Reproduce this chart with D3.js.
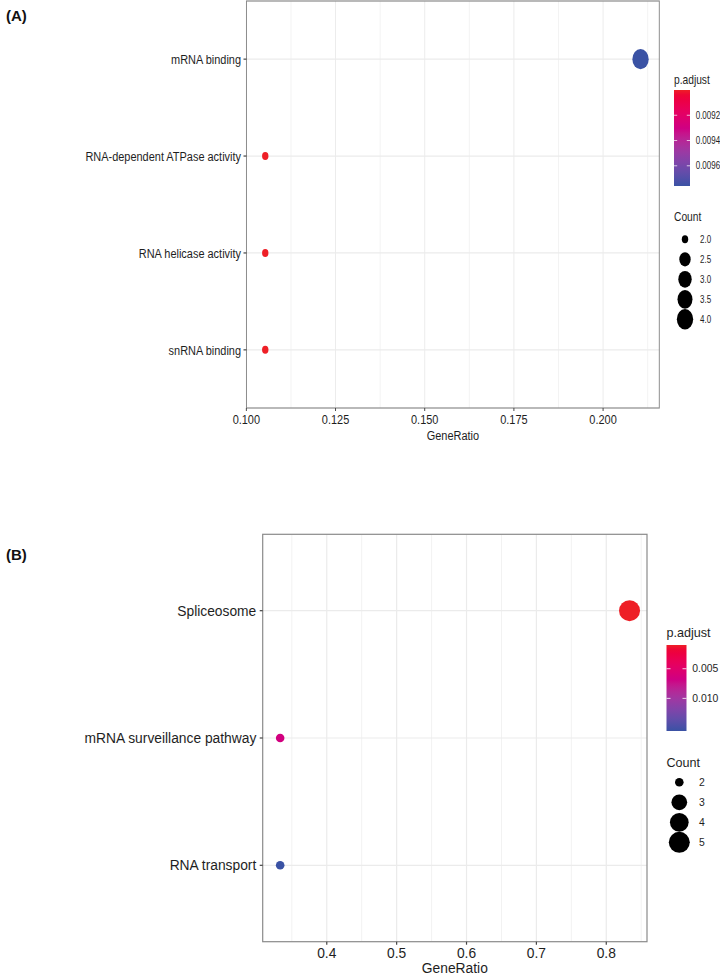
<!DOCTYPE html>
<html>
<head>
<meta charset="utf-8">
<script src="https://cdn.jsdelivr.net/npm/d3@7"></script>
<style>
  html, body { margin: 0; padding: 0; background: #fff; }
  svg { display: block; font-family: "Liberation Sans", Arial, sans-serif; }
</style>
</head>
<body>
<script>
// ---------------- DATA ----------------
// Panel A (GO)
const termsA = ["mRNA binding", "RNA-dependent ATPase activity", "RNA helicase activity", "snRNA binding"];
const geneRatioA = [0.2105, 0.1053, 0.1053, 0.1053];
const countA = [4, 2, 2, 2];
const pAdjA = [0.00976, 0.00900, 0.00900, 0.00900];
const xTicksA = [0.100, 0.125, 0.150, 0.175, 0.200];
const colorBreaksA = [0.0092, 0.0094, 0.0096];
const countBreaksA = [2.0, 2.5, 3.0, 3.5, 4.0];

// Panel B (KEGG)
const termsB = ["Spliceosome", "mRNA surveillance pathway", "RNA transport"];
const geneRatioB = [0.8333, 0.3333, 0.3333];
const countB = [5, 2, 2];
const pAdjB = [0.0010, 0.0065, 0.0155];
const xTicksB = [0.4, 0.5, 0.6, 0.7, 0.8];
const colorBreaksB = [0.005, 0.010];
const countBreaksB = [2, 3, 4, 5];

// ---------------- LAYOUT ----------------
const W = 720, H = 974;
const RED = "#EE1F26", BLUE = "#3A52A4";
const TXT = "#1e1e1e";

const svg = d3.select("body").append("svg").attr("width", W).attr("height", H);
svg.append("rect").attr("width", W).attr("height", H).attr("fill", "#fff");
const defs = svg.append("defs");

function drawPanel(terms, ratio, count, padj, xTicks, xFmt, cBreaks, cFmt, nBreaks, nFmt, L) {
  const SX = L.sx;
  const vx = v => v / SX;   // real px -> virtual px inside the horizontally scaled group
  const g = svg.append("g").attr("transform", `scale(${SX},1)`);
  const data = terms.map((t, i) => ({ term: t, x: ratio[i], n: count[i], p: padj[i] }));

  // x scale with ggplot-like 5% expansion
  const ext = d3.extent(ratio);
  const pad = (ext[1] - ext[0]) * 0.05;
  const x = d3.scaleLinear().domain([ext[0] - pad, ext[1] + pad]).range([vx(L.left), vx(L.right)]);
  const y = d3.scalePoint().domain(terms).range([L.top, L.bottom]).padding(0.6);

  const pExt = d3.extent(padj);
  const color = d3.scaleLinear().domain(pExt).range([RED, BLUE]).interpolate(d3.interpolateHcl);
  const nExt = d3.extent(count);
  const rad = d3.scaleLinear().domain([0, 1]).range([L.rmin, L.rmax]);
  const r = v => rad(Math.sqrt((v - nExt[0]) / (nExt[1] - nExt[0])));

  // grid: minor
  const step = xTicks[1] - xTicks[0];
  const minor = [];
  for (let v = xTicks[0] - step / 2; v <= x.domain()[1]; v += step) {
    if (v >= x.domain()[0]) minor.push(v);
  }
  g.selectAll(".minor").data(minor).join("line")
    .attr("x1", d => x(d)).attr("x2", d => x(d))
    .attr("y1", L.top).attr("y2", L.bottom)
    .attr("stroke", "#F2F2F2").attr("stroke-width", 1);
  // grid: major vertical
  g.selectAll(".majx").data(xTicks).join("line")
    .attr("x1", d => x(d)).attr("x2", d => x(d))
    .attr("y1", L.top).attr("y2", L.bottom)
    .attr("stroke", "#EBEBEB").attr("stroke-width", 1.2);
  // grid: major horizontal
  g.selectAll(".majy").data(terms).join("line")
    .attr("x1", vx(L.left)).attr("x2", vx(L.right))
    .attr("y1", d => y(d)).attr("y2", d => y(d))
    .attr("stroke", "#EBEBEB").attr("stroke-width", 1.2);

  // points
  g.selectAll(".pt").data(data).join("circle")
    .attr("cx", d => x(d.x)).attr("cy", d => y(d.term))
    .attr("r", d => r(d.n))
    .attr("fill", d => color(d.p));

  // panel border
  g.append("rect")
    .attr("x", vx(L.left)).attr("y", L.top)
    .attr("width", vx(L.right) - vx(L.left)).attr("height", L.bottom - L.top)
    .attr("fill", "none").attr("stroke", "#8a8a8a").attr("stroke-width", 1.2);

  // y axis ticks & labels
  g.selectAll(".yt").data(terms).join("line")
    .attr("x1", vx(L.left - 3)).attr("x2", vx(L.left))
    .attr("y1", d => y(d)).attr("y2", d => y(d))
    .attr("stroke", "#444").attr("stroke-width", 1.2);
  g.selectAll(".yl").data(terms).join("text")
    .attr("x", vx(L.yLabEnd)).attr("y", d => y(d) + 0.36 * L.font)
    .attr("text-anchor", "end").attr("font-size", L.font).attr("fill", TXT)
    .text(d => d);

  // x axis ticks & labels
  g.selectAll(".xt").data(xTicks).join("line")
    .attr("x1", d => x(d)).attr("x2", d => x(d))
    .attr("y1", L.bottom).attr("y2", L.bottom + 3)
    .attr("stroke", "#444").attr("stroke-width", 1.2);
  g.selectAll(".xl").data(xTicks).join("text")
    .attr("x", d => x(d)).attr("y", L.tickBase)
    .attr("text-anchor", "middle").attr("font-size", L.font).attr("fill", TXT)
    .text(d => d3.format(xFmt)(d));
  g.append("text")
    .attr("x", (x.range()[0] + x.range()[1]) / 2).attr("y", L.titleBase)
    .attr("text-anchor", "middle").attr("font-size", L.font).attr("fill", TXT)
    .text("GeneRatio");

  // panel tag (not compressed)
  svg.append("text").attr("x", 6).attr("y", L.tagBase)
    .attr("font-size", 15).attr("font-weight", "bold").attr("fill", "#111")
    .text(L.tag);

  // ---- colour legend ----
  const lg = L.leg;
  g.append("text").attr("x", vx(lg.x)).attr("y", lg.titleBase)
    .attr("font-size", lg.titleFont).attr("fill", TXT).text("p.adjust");
  const gid = "grad" + L.tag.replace(/\W/g, "");
  const grad = defs.append("linearGradient").attr("id", gid)
    .attr("x1", 0).attr("y1", 0).attr("x2", 0).attr("y2", 1);
  d3.range(0, 1.0001, 0.05).forEach(t => {
    grad.append("stop").attr("offset", t)
      .attr("stop-color", color(pExt[0] + t * (pExt[1] - pExt[0])));
  });
  g.append("rect").attr("x", vx(lg.x)).attr("y", lg.barTop)
    .attr("width", vx(lg.x + lg.barW) - vx(lg.x)).attr("height", lg.barBottom - lg.barTop)
    .attr("fill", `url(#${gid})`);
  const cy = d3.scaleLinear().domain(pExt).range([lg.barTop, lg.barBottom]);
  const tk = lg.barW / 5;
  cBreaks.forEach(b => {
    [[lg.x, lg.x + tk], [lg.x + lg.barW - tk, lg.x + lg.barW]].forEach(([a, c]) => {
      g.append("line").attr("x1", vx(a)).attr("x2", vx(c))
        .attr("y1", cy(b)).attr("y2", cy(b))
        .attr("stroke", "#fff").attr("stroke-opacity", 0.8).attr("stroke-width", 1);
    });
  });
  g.selectAll(".cl").data(cBreaks).join("text")
    .attr("x", vx(lg.labX)).attr("y", d => cy(d) + 0.36 * lg.labFont)
    .attr("font-size", lg.labFont).attr("fill", TXT)
    .text(d => d3.format(cFmt)(d));

  // ---- size legend ----
  g.append("text").attr("x", vx(lg.x)).attr("y", lg.countTitleBase)
    .attr("font-size", lg.titleFont).attr("fill", TXT).text("Count");
  g.selectAll(".sk").data(nBreaks).join("circle")
    .attr("cx", vx(lg.circX)).attr("cy", (d, i) => lg.countFirst + i * lg.countStep)
    .attr("r", d => r(d)).attr("fill", "#000");
  g.selectAll(".sl").data(nBreaks).join("text")
    .attr("x", vx(lg.countLabX)).attr("y", (d, i) => lg.countFirst + i * lg.countStep + 0.36 * lg.labFont)
    .attr("font-size", lg.labFont).attr("fill", TXT)
    .text(d => d3.format(nFmt)(d));
}

drawPanel(termsA, geneRatioA, countA, pAdjA, xTicksA, ".3f", colorBreaksA, ".4f", countBreaksA, ".1f", {
  sx: 0.8,
  left: 246.5, right: 659.3, top: 1, bottom: 408, yLabEnd: 241,
  rmin: 4.0, rmax: 10.2,
  font: 13.7, tickBase: 424.3, titleBase: 440.5,
  tag: "(A)", tagBase: 21,
  leg: { x: 674, titleBase: 84, titleFont: 12.8, barTop: 90, barBottom: 186, barW: 16,
         labFont: 10, labX: 695.7, countTitleBase: 221.5, countFirst: 239.3, countStep: 20,
         circX: 685, countLabX: 700 }
});

drawPanel(termsB, geneRatioB, countB, pAdjB, xTicksB, ".1f", colorBreaksB, ".3f", countBreaksB, "d", {
  sx: 1.0,
  left: 262.7, right: 647, top: 534.3, bottom: 941.7, yLabEnd: 256.3,
  rmin: 4.3, rmax: 10.5,
  font: 13.8, tickBase: 958.3, titleBase: 972.5,
  tag: "(B)", tagBase: 560,
  leg: { x: 666.5, titleBase: 636.5, titleFont: 12.6, barTop: 645, barBottom: 731, barW: 20,
         labFont: 10.4, labX: 692.3, countTitleBase: 766.7, countFirst: 782.3, countStep: 20,
         circX: 679.3, countLabX: 699 }
});
</script>
</body>
</html>
